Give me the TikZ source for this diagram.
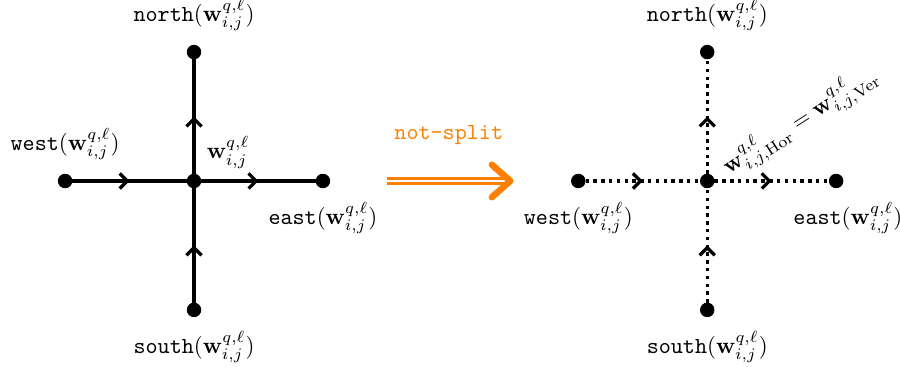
\documentclass[tikz,border=0pt]{standalone}
\usepackage{fix-cm}
\usepackage{amsmath}
\usetikzlibrary{positioning, arrows.meta, decorations.markings}
\definecolor{splitorange}{RGB}{255,128,0}
\newcommand{\wij}{\mathbf{w}^{q,\ell}_{i,j}}
\tikzset{dt/.style = {circle, fill, minimum size=2.2mm, inner sep=0pt, draw},
         ln/.style = {line width=1.5pt},
         dl/.style = {line width=1.6pt, dotted},
         md/.style = {postaction={decorate}, decoration={markings,
                      mark=at position 0.5 with {\arrow{Straight Barb[length=3.5pt,width=7pt,line width=1.5pt]}}}},
         sp/.style = {splitorange, line width=1.4pt, double=white, double distance=0.9pt,
                      -{Straight Barb[round, length=8.5pt, width=15pt, line width=3pt]}}}

\begin{document}
\begin{tikzpicture}[every node/.append style={font=\fontsize{10.6}{13}\selectfont}]
    \useasboundingbox (-3.145,-3.015) rectangle (11.445,2.934);
    % no split
    \node[dt] (cl) at (0,0) {};
    \node[dt] (wl) at (-2.09,0) {}; \node[dt] (el) at (2.09,0) {};
    \node[dt] (nl) at (0,2.09) {};  \node[dt] (sl) at (0,-2.09) {};
    \draw[ln, md] (wl) -- (cl);
    \draw[ln, md] (cl) -- (el);
    \draw[ln, md] (sl) -- (cl);
    \draw[ln, md] (cl) -- (nl);
    \node[above=1mm of nl] (nll) {$\texttt{north}(\wij)$};
    \node[below=1mm of sl] (sll) {$\texttt{south}(\wij)$};
    \node[above=1mm of wl] (wll) {$\texttt{west}(\wij)$};
    \node[below=1mm of el] (ell) {$\texttt{east}(\wij)$};
    \node[above right=0pt of cl] (cll) {$\wij$};
    % arrow
    \node (a1) at (3.13,0) {}; \node (a2) at (5.18,0) {};
    \draw[sp] (a1.center) -- (a2.center);
    \node[text=splitorange] (al) at (4.13,0.75) {\texttt{not-split}};
    % split
    \node[dt] (cr) at (8.32,0) {};
    \node[dt] (wr) at (6.23,0) {}; \node[dt] (er) at (10.41,0) {};
    \node[dt] (nr) at (8.32,2.09) {}; \node[dt] (sr) at (8.32,-2.09) {};
    \draw[dl, md] (wr) -- (cr);
    \draw[dl, md] (cr) -- (er);
    \draw[dl, md] (sr) -- (cr);
    \draw[dl, md] (cr) -- (nr);
    \node[above=1mm of nr] (nrl) {$\texttt{north}(\wij)$};
    \node[below=1mm of sr] (srl) {$\texttt{south}(\wij)$};
    \node[below=1mm of wr] (wrl) {$\texttt{west}(\wij)$};
    \node[below=1mm of er, xshift=0.19cm] (erl) {$\texttt{east}(\wij)$};
    \node[rotate=33] (crl) at ([shift={(1.51,0.97)}]cr) {$\mathbf{w}^{q,\ell}_{i,j,\mathrm{Hor}} = \mathbf{w}^{q,\ell}_{i,j,\mathrm{Ver}}$};
\end{tikzpicture}
\end{document}
